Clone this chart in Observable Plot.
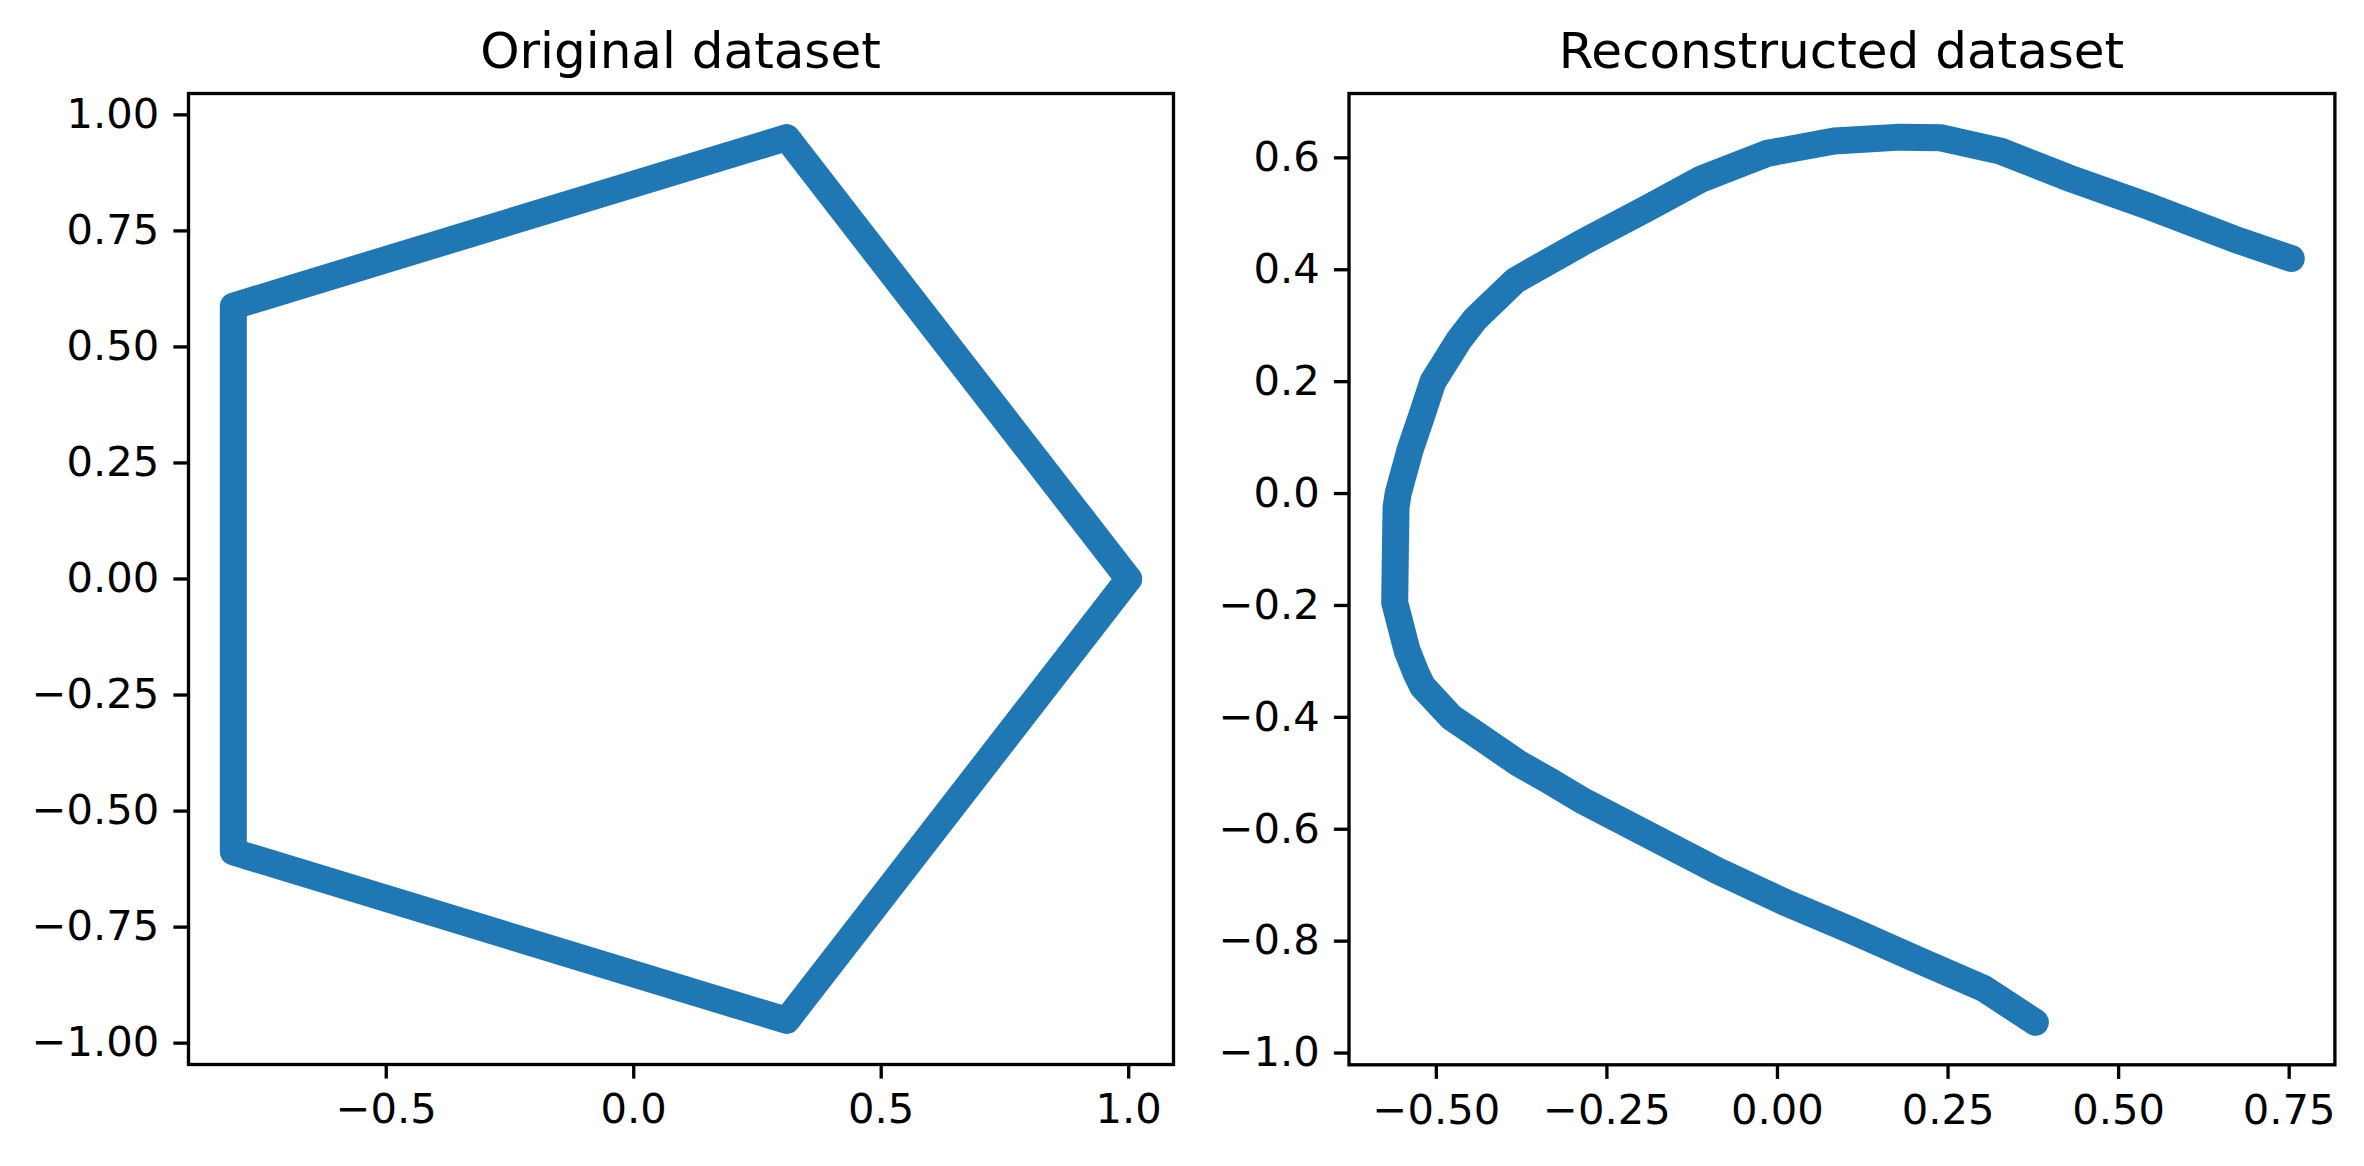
<!DOCTYPE html>
<html>
<head>
<meta charset="utf-8">
<script src="https://cdn.jsdelivr.net/npm/d3@7"></script>
<script src="https://cdn.jsdelivr.net/npm/@observablehq/plot@0.6"></script>
<style>
  html, body { margin: 0; padding: 0; background: white; }
  #wrap { position: relative; width: 2364px; height: 1166px; background: white; font-family: "DejaVu Sans", sans-serif; }
  .panel { position: absolute; top: 0; }
  .title { position: absolute; font-family: "DejaVu Sans", sans-serif; font-size: 50px; line-height: 1; white-space: nowrap; transform: translateX(-50%); color: black; }
</style>
</head>
<body>
<div id="wrap"></div>
<script>
// ---- Data: Original dataset (pentagon vertices, closed path) ----
const origX = [1.0, 0.309, -0.809, -0.809, 0.309, 1.0];
const origY = [0.0, 0.951, 0.588, -0.588, -0.951, 0.0];

// ---- Data: Reconstructed dataset ----
const reconX = [0.753, 0.669, 0.547, 0.425, 0.327, 0.239, 0.180, 0.083, -0.015, -0.112,
  -0.189, -0.287, -0.384, -0.443, -0.467, -0.505, -0.522, -0.538, -0.556, -0.559,
  -0.560, -0.561, -0.543, -0.530, -0.520, -0.478, -0.430, -0.381, -0.335, -0.284,
  -0.186, -0.088, 0.010, 0.107, 0.205, 0.303, 0.378];
const reconY = [0.420, 0.455, 0.512, 0.565, 0.612, 0.636, 0.637, 0.630, 0.608, 0.562,
  0.511, 0.448, 0.381, 0.312, 0.274, 0.200, 0.137, 0.080, 0.000, -0.024,
  -0.100, -0.195, -0.280, -0.320, -0.345, -0.400, -0.440, -0.481, -0.513, -0.550,
  -0.612, -0.674, -0.730, -0.780, -0.833, -0.885, -0.945];

// ---- Tick labels ----
const leftXTicks = [-0.5, 0.0, 0.5, 1.0];
const leftYTicks = [-1.0, -0.75, -0.5, -0.25, 0.0, 0.25, 0.5, 0.75, 1.0];
const rightXTicks = [-0.5, -0.25, 0.0, 0.25, 0.5, 0.75];
const rightYTicks = [-1.0, -0.8, -0.6, -0.4, -0.2, 0.0, 0.2, 0.4, 0.6];

const titles = ["Original dataset", "Reconstructed dataset"];

const BLUE = "#1f77b4";
const LW = 3.33;      // 0.8pt at 300 dpi
const TICK = 14.6;    // 3.5pt
const FS = 41.67;     // 10pt

function panel(xs, ys, xDomain, yDomain, xTicks, yTicks, xFmt, yFmt, w, margins) {
  const data = xs.map((x, i) => ({x, y: ys[i]}));
  return Plot.plot({
    width: w,
    height: 1166,
    marginLeft: margins[0],
    marginRight: margins[1],
    marginTop: margins[2],
    marginBottom: margins[3],
    style: {fontFamily: "DejaVu Sans, sans-serif", fontSize: FS + "px", color: "black", background: "white", overflow: "visible"},
    x: {domain: xDomain},
    y: {domain: yDomain},
    marks: [
      Plot.line(data, {x: "x", y: "y", stroke: BLUE, strokeWidth: 27, strokeLinejoin: "round", strokeLinecap: "round"}),
      Plot.frame({stroke: "black", strokeWidth: LW}),
      Plot.axisX({ticks: xTicks, tickFormat: d3.format(xFmt), tickSize: TICK, tickPadding: TICK, fontSize: FS, strokeWidth: LW, label: null, anchor: "bottom"}),
      Plot.axisY({ticks: yTicks, tickFormat: d3.format(yFmt), tickSize: TICK, tickPadding: TICK, fontSize: FS, strokeWidth: LW, label: null, anchor: "left"})
    ]
  });
}

const wrap = document.getElementById("wrap");

const left = panel(origX, origY, [-0.8995, 1.0905], [-1.046, 1.046], leftXTicks, leftYTicks, ".1f", ".2f",
  1200, [188, 27, 93, 102]);
left.classList.add("panel");
left.style.left = "0px";
wrap.appendChild(left);

const right = panel(reconX, reconY, [-0.628, 0.817], [-1.021, 0.715], rightXTicks, rightYTicks, ".2f", ".1f",
  1164, [148.5, 29.6, 93, 101.7]);
right.classList.add("panel");
right.style.left = "1200px";
wrap.appendChild(right);

const centers = [680.5, 1841.5];
titles.forEach((t, i) => {
  const d = document.createElement("div");
  d.className = "title";
  d.textContent = t;
  d.style.left = centers[i] + "px";
  d.style.top = "25.7px";
  wrap.appendChild(d);
});
</script>
</body>
</html>
